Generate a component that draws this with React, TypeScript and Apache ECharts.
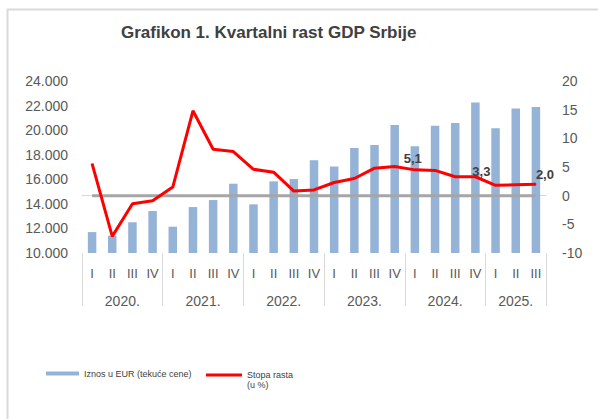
import React, { useEffect, useRef } from "react";
import * as echarts from "echarts";

const quarters = [
  "I", "II", "III", "IV",
  "I", "II", "III", "IV",
  "I", "II", "III", "IV",
  "I", "II", "III", "IV",
  "I", "II", "III", "IV",
  "I", "II", "III",
];
const years = ["2020.", "2021.", "2022.", "2023.", "2024.", "2025."];
const quartersPerYear = [4, 4, 4, 4, 4, 3];

// GDP amount in EUR (current prices), millions
const gdpAmount = [
  11700, 11400, 12500, 13420,
  12140, 13740, 14310, 15640,
  13960, 15830, 16020, 17540,
  17050, 18540, 18790, 20420,
  18680, 20360, 20580, 22260,
  20150, 21770, 21880,
];
// Growth rate (%)
const growthRate = [
  5.6, -7.1, -1.4, -0.9,
  1.5, 14.8, 8.1, 7.7,
  4.6, 4.1, 0.8, 1.0,
  2.3, 3.0, 4.8, 5.1,
  4.5, 4.4, 3.3, 3.3,
  1.8, 1.9, 2.0,
];
const zeroLine = [
  0, 0, 0, 0, 0, 0, 0, 0, 0, 0, 0, 0,
  0, 0, 0, 0, 0, 0, 0, 0, 0, 0, 0,
];
const labeledPoints = [15, 19, 22];
const labelOffsets: Record<number, number[]> = {
  15: [18, -8],
  19: [6, -5],
  22: [9, -10],
};

const leftTicks = { min: 10000, max: 24000, interval: 2000 };
const rightTicks = { min: -10, max: 20, interval: 5 };

const TITLE = "Grafikon 1. Kvartalni rast GDP Srbije";
const BAR_NAME = "Iznos u EUR (tekuće cene)";
const LINE_NAME = "Stopa rasta (u %)";

const FONT = "Liberation Sans, Arial, sans-serif";

export default function App() {
  const ref = useRef<HTMLDivElement>(null);

  useEffect(() => {
    if (!ref.current) return;
    const chart = echarts.init(ref.current, undefined, { renderer: "svg" });

    const boundaries: number[] = [0];
    quartersPerYear.forEach((n) => boundaries.push(boundaries[boundaries.length - 1] + n));
    const centers = quartersPerYear.map((n, i) => boundaries[i] + n / 2);
    const total = boundaries[boundaries.length - 1];

    const fmtThousands = (v: number) =>
      String(Math.round(v)).replace(/\B(?=(\d{3})+(?!\d))/g, ".");

    const lineData = growthRate.map((v, i) =>
      labeledPoints.includes(i)
        ? {
            value: v,
            label: {
              show: true,
              position: "inside",
              offset: labelOffsets[i],
              formatter: (p: any) => Number(p.value).toFixed(1).replace(".", ","),
              fontFamily: FONT,
              fontSize: 13,
              fontWeight: "bold",
              color: "#404040",
            },
          }
        : v
    );

    chart.setOption({
      animation: false,
      backgroundColor: "#ffffff",
      textStyle: { fontFamily: FONT },
      title: {
        text: TITLE,
        left: 121,
        top: 24,
        padding: 0,
        textStyle: {
          fontFamily: FONT,
          fontSize: 17,
          fontWeight: "bold",
          color: "#404040",
        },
      },
      graphic: [
        {
          type: "rect",
          shape: { x: 7.5, y: 9.5, width: 700, height: 600 },
          style: { fill: "none", stroke: "#d9d9d9", lineWidth: 2 },
          silent: true,
        },
      ],
      legend: [
        {
          data: [BAR_NAME],
          left: 46,
          top: 369,
          padding: 0,
          itemWidth: 33,
          itemHeight: 4,
          itemGap: 5,
          icon: "rect",
          textStyle: { fontFamily: FONT, fontSize: 9, color: "#404040" },
        },
        {
          data: [LINE_NAME],
          left: 206,
          top: 360,
          padding: 0,
          itemWidth: 36,
          itemHeight: 3,
          icon: "rect",
          formatter: () => "{t|}\n{t|Stopa rasta}\n{t|(u %)}",
          textStyle: {
            fontFamily: FONT,
            fontSize: 9,
            lineHeight: 10,
            color: "#404040",
            rich: {
              t: { fontFamily: FONT, fontSize: 9, lineHeight: 10, color: "#404040" },
            },
          },
        },
      ],
      grid: { left: 82, right: 52, top: 81, height: 172 },
      xAxis: [
        {
          type: "category",
          data: quarters,
          position: "bottom",
          axisLine: { show: true, lineStyle: { color: "#d9d9d9", width: 1 } },
          axisTick: { show: false },
          axisLabel: {
            interval: 0,
            margin: 14,
            fontFamily: FONT,
            fontSize: 13,
            color: "#595959",
          },
        },
        {
          type: "value",
          position: "bottom",
          min: 0,
          max: total,
          axisLine: { show: false },
          splitLine: { show: false },
          axisTick: {
            show: true,
            length: 53,
            lineStyle: { color: "#d9d9d9", width: 1 },
            customValues: boundaries,
          },
          axisLabel: {
            margin: 41,
            fontFamily: FONT,
            fontSize: 14,
            color: "#595959",
            customValues: centers,
            formatter: (v: number) => {
              const idx = centers.findIndex((c) => Math.abs(c - v) < 1e-6);
              return idx >= 0 ? years[idx] : "";
            },
          },
        },
      ],
      yAxis: [
        {
          type: "value",
          min: leftTicks.min,
          max: leftTicks.max,
          interval: leftTicks.interval,
          axisLine: { show: false },
          axisTick: { show: false },
          splitLine: { show: false },
          axisLabel: {
            margin: 14,
            fontFamily: FONT,
            fontSize: 14,
            color: "#595959",
            formatter: (v: number) => fmtThousands(v),
          },
        },
        {
          type: "value",
          min: rightTicks.min,
          max: rightTicks.max,
          interval: rightTicks.interval,
          position: "right",
          axisLine: { show: false },
          axisTick: { show: false },
          splitLine: { show: false },
          axisLabel: {
            margin: 16,
            fontFamily: FONT,
            fontSize: 14,
            color: "#595959",
          },
        },
      ],
      series: [
        {
          name: BAR_NAME,
          type: "bar",
          xAxisIndex: 0,
          yAxisIndex: 0,
          data: gdpAmount,
          barWidth: 8.5,
          itemStyle: { color: "#95b3d7" },
        },
        {
          name: "zero",
          type: "line",
          xAxisIndex: 0,
          yAxisIndex: 1,
          data: zeroLine,
          symbol: "none",
          lineStyle: { color: "#a6a6a6", width: 3 },
          itemStyle: { color: "#a6a6a6" },
          silent: true,
        },
        {
          name: LINE_NAME,
          type: "line",
          xAxisIndex: 0,
          yAxisIndex: 1,
          data: lineData,
          symbol: "circle",
          symbolSize: 1,
          showSymbol: true,
          lineStyle: { color: "#ff0000", width: 3 },
          itemStyle: { color: "#ff0000" },
        },
      ],
    });

    return () => chart.dispose();
  }, []);

  return (
    <div
      ref={ref}
      style={{ position: "absolute", left: 0, top: 0, width: 598, height: 419 }}
    />
  );
}
